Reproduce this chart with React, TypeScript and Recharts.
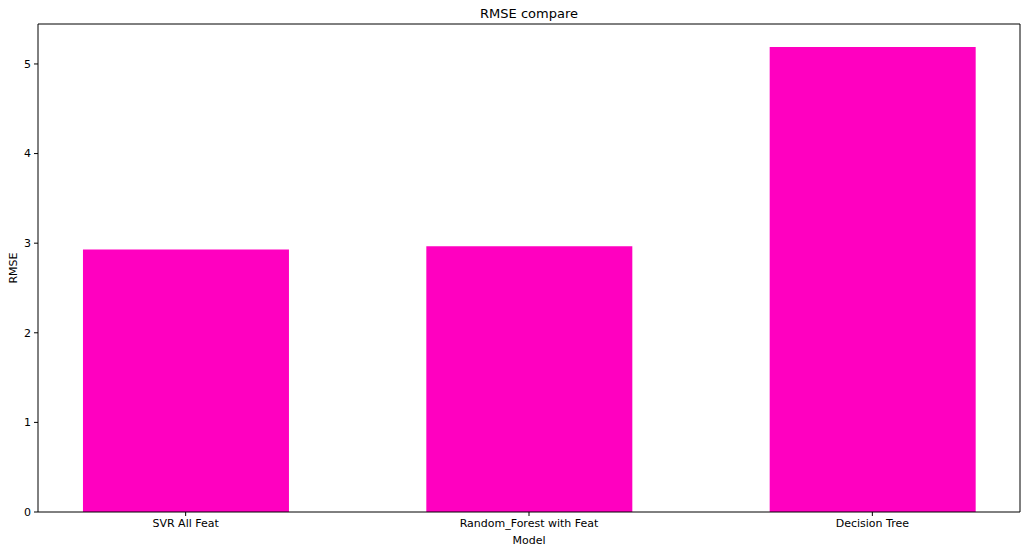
import { Bar, BarChart, Label, ReferenceLine, XAxis, YAxis } from "recharts";

const models = ["SVR All Feat", "Random_Forest with Feat", "Decision Tree"];
const rmse = [2.93, 2.965, 5.19];
const yTicks = [0, 1, 2, 3, 4, 5];

const data = models.map((m, i) => ({ x: i, model: m, rmse: rmse[i] }));

const font = "'DejaVu Sans', sans-serif";
const Y_MAX = 5.446;
const X_MIN = -0.43;
const X_MAX = 2.43;

export default function App() {
  return (
    <div style={{ position: "absolute", left: 0, top: 0, width: 1028, height: 554, background: "#fff" }}>
      <BarChart
        width={1028}
        height={554}
        data={data}
        margin={{ top: 24, right: 8, bottom: 0, left: 0 }}
        style={{ fontFamily: font }}
      >
        <text x={529} y={18} textAnchor="middle" fontSize={13} fill="#000" fontFamily={font}>
          RMSE compare
        </text>
        <XAxis
          type="number"
          dataKey="x"
          domain={[X_MIN, X_MAX]}
          ticks={[0, 1, 2]}
          tickFormatter={(v: number) => models[v] ?? ""}
          allowDataOverflow
          height={42}
          stroke="#000"
          tickSize={4}
          tickMargin={3}
          tick={{ fill: "#000", fontSize: 11 }}
        >
          <Label value="Model" position="insideBottom" offset={10} fill="#000" fontSize={11} />
        </XAxis>
        <YAxis
          domain={[0, Y_MAX]}
          ticks={yTicks}
          allowDataOverflow
          width={38}
          stroke="#000"
          tickSize={4}
          tickMargin={3}
          tick={{ fill: "#000", fontSize: 11 }}
        >
          <Label
            content={({ viewBox }: any) => {
              const cx = 13;
              const cy = viewBox ? viewBox.y + viewBox.height / 2 : 268;
              return (
                <text
                  x={cx}
                  y={cy}
                  transform={`rotate(-90 ${cx} ${cy})`}
                  textAnchor="middle"
                  dominantBaseline="central"
                  fontSize={11}
                  fill="#000"
                  fontFamily={font}
                >
                  RMSE
                </text>
              );
            }}
          />
        </YAxis>
        <ReferenceLine y={Y_MAX} stroke="#000" ifOverflow="visible" />
        <ReferenceLine x={X_MAX} stroke="#000" ifOverflow="visible" />
        <Bar dataKey="rmse" fill="#FF00C0" barSize={206} isAnimationActive={false} />
      </BarChart>
    </div>
  );
}
